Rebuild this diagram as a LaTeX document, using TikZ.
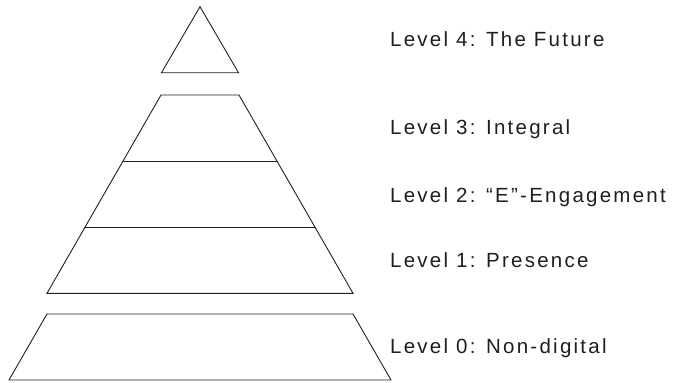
\documentclass[tikz,border=0pt]{standalone}
\usepackage{fontspec}
\setmainfont{Liberation Sans}[LetterSpace=11]
\begin{document}
\begin{tikzpicture}[x=1pt,y=-1pt,
  shapeline/.style={draw=black!88, line width=0.9pt, line join=miter},
  lvl/.style={anchor=base west, inner sep=0pt, text=black!88, font=\fontsize{20.5}{24}\selectfont}]
\useasboundingbox (0,0) rectangle (675,383);
% top triangle
\draw[shapeline] (200,6.7) -- (238.5,72.7) -- (161.5,72.7) -- cycle;
% main trapezoid
\draw[shapeline] (161,95) -- (239,95) -- (353,293.3) -- (47,293.3) -- cycle;
\draw[shapeline] (122.7,161.3) -- (277.3,161.3);
\draw[shapeline] (84.7,227.3) -- (315.3,227.3);
% bottom trapezoid
\draw[shapeline] (47,314) -- (353,314) -- (391,380) -- (9,380) -- cycle;
% labels
\node[lvl] (l4) at (390,46) {Level 4: The Future};
\node[lvl] (l3) at (390,134.5) {Level 3: Integral};
\node[lvl] (l2) at (390,202) {Level 2: “E”-Engagement};
\node[lvl] (l1) at (390,267) {Level 1: Presence};
\node[lvl] (l0) at (390,353.5) {Level 0: Non-digital};
\end{tikzpicture}
\end{document}
